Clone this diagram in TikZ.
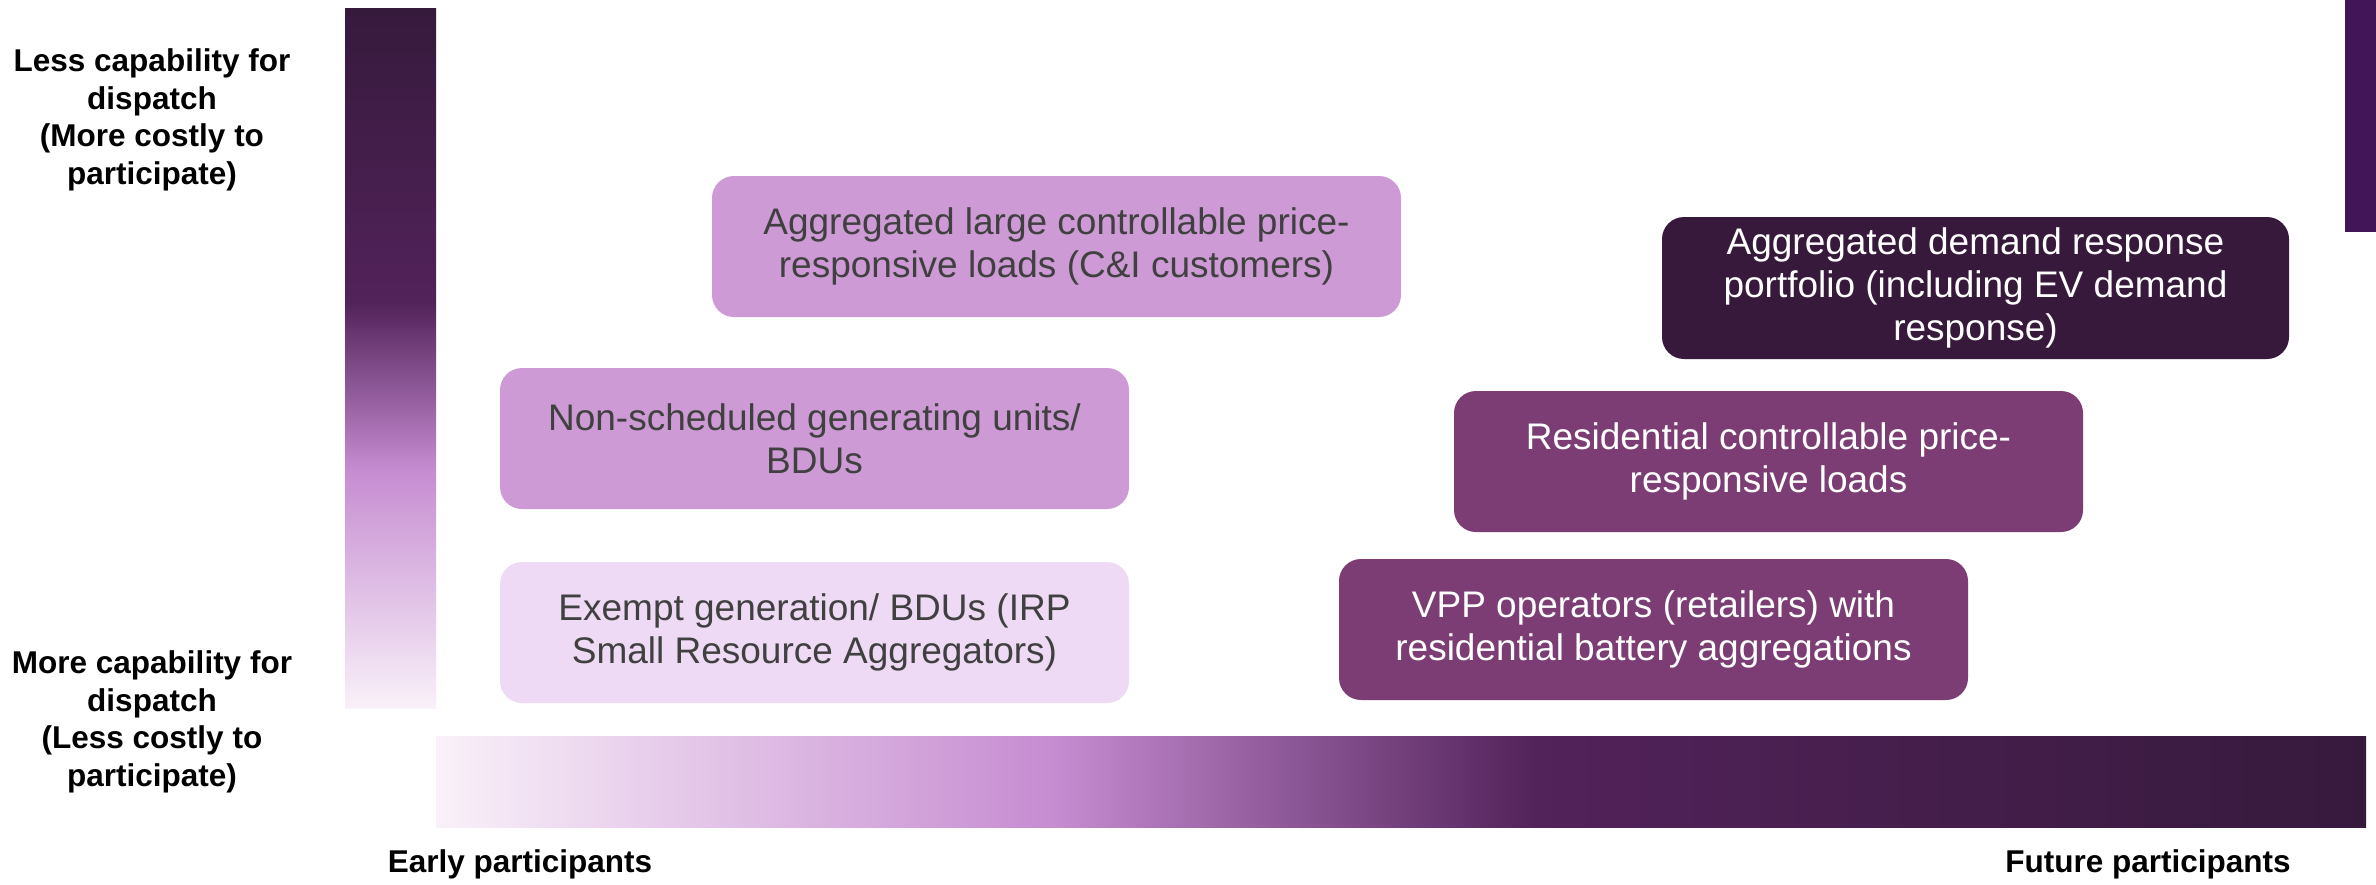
\documentclass[tikz,border=0pt]{standalone}
\usepackage{fontspec}
\setmainfont{Liberation Sans}
\definecolor{boxlight}{HTML}{CD9AD5}
\definecolor{boxpale}{HTML}{EFDAF5}
\definecolor{boxdark}{HTML}{37193B}
\definecolor{boxmid}{HTML}{7B3D73}
\definecolor{txtgrey}{HTML}{404040}
\definecolor{gA}{HTML}{F9F1F9}
\definecolor{gB}{HTML}{C68CD1}
\definecolor{gC}{HTML}{52225A}
\definecolor{gD}{HTML}{361A3C}
\definecolor{edgebar}{HTML}{421558}
\pgfdeclarehorizontalshading{hbarshade}{100bp}{color(0bp)=(gA); color(25bp)=(gA); color(41bp)=(gB); color(53.5bp)=(gC); color(75bp)=(gD); color(100bp)=(gD)}
\pgfdeclareverticalshading{vbarshade}{100bp}{color(0bp)=(gA); color(25bp)=(gA); color(42bp)=(gB); color(54bp)=(gC); color(75bp)=(gD); color(100bp)=(gD)}
\tikzset{
  cardbox/.style={rectangle, rounded corners=22pt, inner sep=0pt, align=center,
    font=\fontsize{37}{43}\selectfont},
  cardlight/.style={cardbox, fill=boxlight, text=txtgrey},
  cardpale/.style={cardbox, fill=boxpale, text=txtgrey},
  carddark/.style={cardbox, fill=boxdark, text=white},
  cardmid/.style={cardbox, fill=boxmid, text=white},
  axislabel/.style={align=center, inner sep=0pt, text=black,
    font=\fontsize{31.5}{37.5}\selectfont\bfseries},
}
\begin{document}
\begin{tikzpicture}[x=1pt,y=-1pt]
\useasboundingbox (0,0) rectangle (2376,884);
\fill[white] (0,0) rectangle (2376,884);
% gradient bars
\shade[shading=vbarshade] (345,8) rectangle (436,708);
\shade[shading=hbarshade] (436,736) rectangle (2366,827);
\fill[edgebar] (2345,0) rectangle (2376,232);
% boxes
\node[cardlight, minimum width=689pt, minimum height=141pt] (cni) at (1056.5,246.5)
  {Aggregated large controllable price-\\responsive loads (C\&I customers)};
\node[cardlight, minimum width=629pt, minimum height=141pt] (nsg) at (814.5,438.5)
  {Non-scheduled generating units/\\BDUs};
\node[cardpale, minimum width=629pt, minimum height=141pt] (exg) at (814.5,632.5)
  {Exempt generation/ BDUs (IRP\\Small Resource Aggregators)};
\node[carddark, minimum width=627pt, minimum height=142pt] (adr) at (1975.5,288)
  {Aggregated demand response\\portfolio (including EV demand\\response)};
\node[cardmid, minimum width=629pt, minimum height=141pt] (rcl) at (1768.5,461.5)
  {Residential controllable price-\\responsive loads};
\node[cardmid, minimum width=629pt, minimum height=141pt] (vpp) at (1653.5,629.5)
  {VPP operators (retailers) with\\residential battery aggregations};
% axis labels
\node[axislabel] (lesscap) at (152,120)
  {Less capability for\\dispatch\\(More costly to\\participate)};
\node[axislabel] (morecap) at (152,722)
  {More capability for\\dispatch\\(Less costly to\\participate)};
\node[axislabel] (early) at (520,864) {Early participants};
\node[axislabel] (future) at (2148,864) {Future participants};
\end{tikzpicture}
\end{document}
